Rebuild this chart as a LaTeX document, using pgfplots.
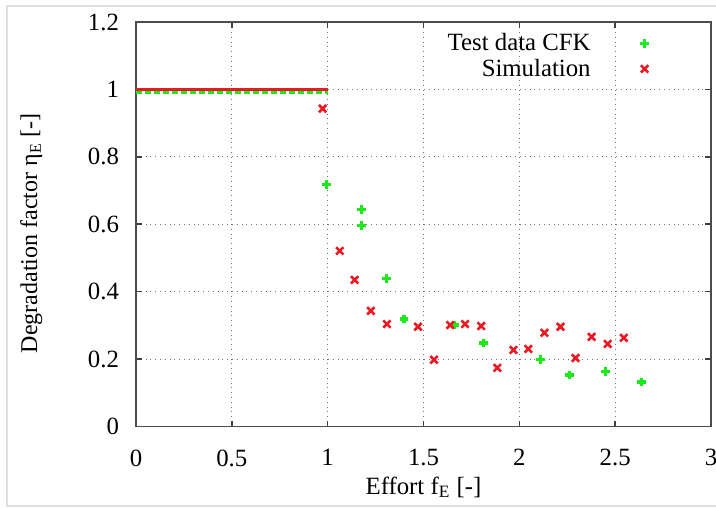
\documentclass[border=0pt]{standalone}
\usepackage{fontspec}
\setmainfont{Liberation Serif}
\usepackage{pgfplots}
\pgfplotsset{compat=1.18}

\definecolor{gpred}{RGB}{235,25,35}
\definecolor{gpgreen}{RGB}{25,235,25}

\begin{document}
\begin{tikzpicture}[font=\rmfamily\fontsize{12.4}{15}\selectfont]
\begin{axis}[
    scale only axis,
    width=287.5pt, height=202.25pt,
    xmin=0, xmax=3, ymin=0, ymax=1.2,
    xtick={0,0.5,...,3}, ytick={0,0.2,...,1.2},
    /pgf/number format/assume math mode=true,
    ticklabel style={font=\rmfamily\fontsize{12.4}{15}\selectfont},
    yticklabel style={/pgf/number format/fixed, /pgf/number format/precision=1, xshift=-5pt},
    xticklabel style={/pgf/number format/fixed, yshift=-8pt},
    tick align=inside, major tick length=3pt,
    tick style={black!75, line width=0.8pt},
    axis line style={black!70, line width=0.8pt},
    grid=major,
    major grid style={black!55, dotted, line width=0.5pt},
    xlabel={Effort f\textsubscript{E} [-]},
    ylabel={Degradation factor η\textsubscript{E} [-]},
    xlabel style={at={(axis description cs:0.5,-0.15)}, anchor=center},
    ylabel style={at={(axis description cs:-0.182,0.478)}, anchor=center, font=\rmfamily\fontsize{12}{14}\selectfont},
    legend cell align=right,
    legend plot pos=right,
    legend style={draw=none, fill=none, font=\rmfamily\fontsize{12.4}{15}\selectfont,
        at={(axis description cs:0.524,0.992)}, anchor=north west, row sep=-1.5pt},
    legend image code/.code={\draw[#1] plot coordinates {(0.85cm,0cm)}; \path (0,0) (1cm,0);},
]
\coordinate (sw) at (rel axis cs:0,0);
\coordinate (ne) at (rel axis cs:1,1);

\addplot[only marks, mark=+, mark size=2.2pt, line width=1.6pt, color=gpgreen] coordinates {
(0.995,0.717) (1.178,0.643) (1.178,0.596) (1.309,0.438) (1.398,0.319)
(1.660,0.301) (1.812,0.248) (2.110,0.198) (2.262,0.153) (2.450,0.162)
(2.639,0.132)
};
\addlegendentry{Test data CFK}

\addplot[only marks, mark=x, mark size=2.6pt, line width=1.3pt, color=gpred] coordinates {
(0.974,0.943) (1.063,0.521) (1.141,0.435) (1.225,0.343) (1.309,0.304)
(1.471,0.296) (1.555,0.198) (1.639,0.301) (1.717,0.304) (1.801,0.298)
(1.885,0.174) (1.969,0.227) (2.047,0.230) (2.131,0.278) (2.215,0.296)
(2.293,0.203) (2.377,0.266) (2.461,0.245) (2.545,0.263)
};
\addlegendentry{Simulation}

\addplot[gpgreen, line width=1.5pt, dash pattern=on 3pt off 1.5pt, forget plot] coordinates {(0,0.99) (1,0.99)};
\addplot[gpred, line width=1.5pt, forget plot] coordinates {(0,1.0) (1,1.0)};
\end{axis}
\pgfresetboundingbox
\path[use as bounding box] ([xshift=-68pt,yshift=-40.75pt]sw) rectangle ([xshift=2.5pt,yshift=11pt]ne);
\begin{scope}[shift={([xshift=-68pt,yshift=-40.75pt]sw)}]
\draw[black!12, line width=1pt] (400pt,1pt) -- (3.5pt,1pt) -- (3.5pt,251pt) -- (400pt,251pt);
\end{scope}
\end{tikzpicture}
\end{document}
